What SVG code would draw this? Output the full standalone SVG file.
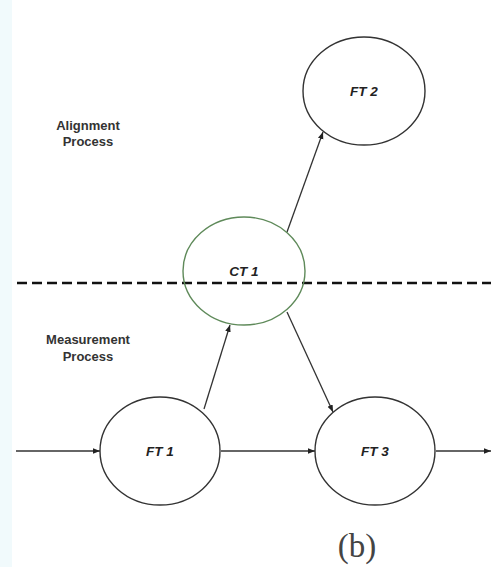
<svg xmlns="http://www.w3.org/2000/svg" width="491" height="567" viewBox="0 0 491 567">
  <defs>
    <marker id="arrow" viewBox="0 0 10 10" refX="10" refY="5" markerWidth="7" markerHeight="7" orient="auto" markerUnits="userSpaceOnUse">
      <path d="M0,1 L10,5 L0,9 z" fill="#222"/>
    </marker>
    <style>
      .node { fill: #fff; stroke: #333; stroke-width: 1.4; }
      .ct { fill: none; stroke: #5f8a5a; stroke-width: 1.4; }
      .lbl { font-family: "Liberation Sans", Arial, sans-serif; font-size: 13.5px; font-weight: bold; font-style: italic; fill: #222; text-anchor: middle; }
      .side { font-family: "Liberation Sans", Arial, sans-serif; font-size: 13px; font-weight: bold; fill: #333; text-anchor: middle; }
      .edge { stroke: #333; stroke-width: 1.3; fill: none; marker-end: url(#arrow); }
    </style>
  </defs>

  <rect x="0" y="0" width="491" height="567" fill="#fff"/>
  <rect x="0" y="0" width="12" height="567" fill="#f1fafc"/>

  <!-- section labels -->
  <text class="side" x="88" y="130">Alignment</text>
  <text class="side" x="88" y="146">Process</text>
  <text class="side" x="88" y="344">Measurement</text>
  <text class="side" x="88" y="361">Process</text>

  <!-- connectors -->
  <g id="connectors">
    <line class="edge" x1="16" y1="451" x2="100" y2="451"/>
    <line class="edge" x1="221" y1="451" x2="315" y2="451"/>
    <line class="edge" x1="436" y1="451" x2="491" y2="451"/>
    <line class="edge" x1="204" y1="409" x2="230" y2="325"/>
    <line class="edge" x1="287" y1="232" x2="323" y2="132"/>
    <line class="edge" x1="287" y1="312" x2="333" y2="412"/>
  </g>

  <g id="FT2">
    <ellipse class="node" cx="364" cy="91" rx="61" ry="54"/>
    <text class="lbl" x="364" y="96">FT 2</text>
  </g>

  <g id="FT1">
    <ellipse class="node" cx="160" cy="451" rx="60" ry="54"/>
    <text class="lbl" x="160" y="456">FT 1</text>
  </g>

  <g id="FT3">
    <ellipse class="node" cx="375" cy="451" rx="60" ry="54"/>
    <text class="lbl" x="375" y="456">FT 3</text>
  </g>

  <!-- boundary between the two processes -->
  <line x1="17" y1="283" x2="491" y2="283" stroke="#111" stroke-width="2.4" stroke-dasharray="10,5"/>

  <g id="CT1">
    <ellipse class="ct" cx="244" cy="271" rx="61" ry="54"/>
    <text class="lbl" x="244" y="276">CT 1</text>
  </g>

  <text x="357" y="557" font-family="Liberation Serif, 'Times New Roman', serif" font-size="33" fill="#444" text-anchor="middle">(b)</text>
</svg>
